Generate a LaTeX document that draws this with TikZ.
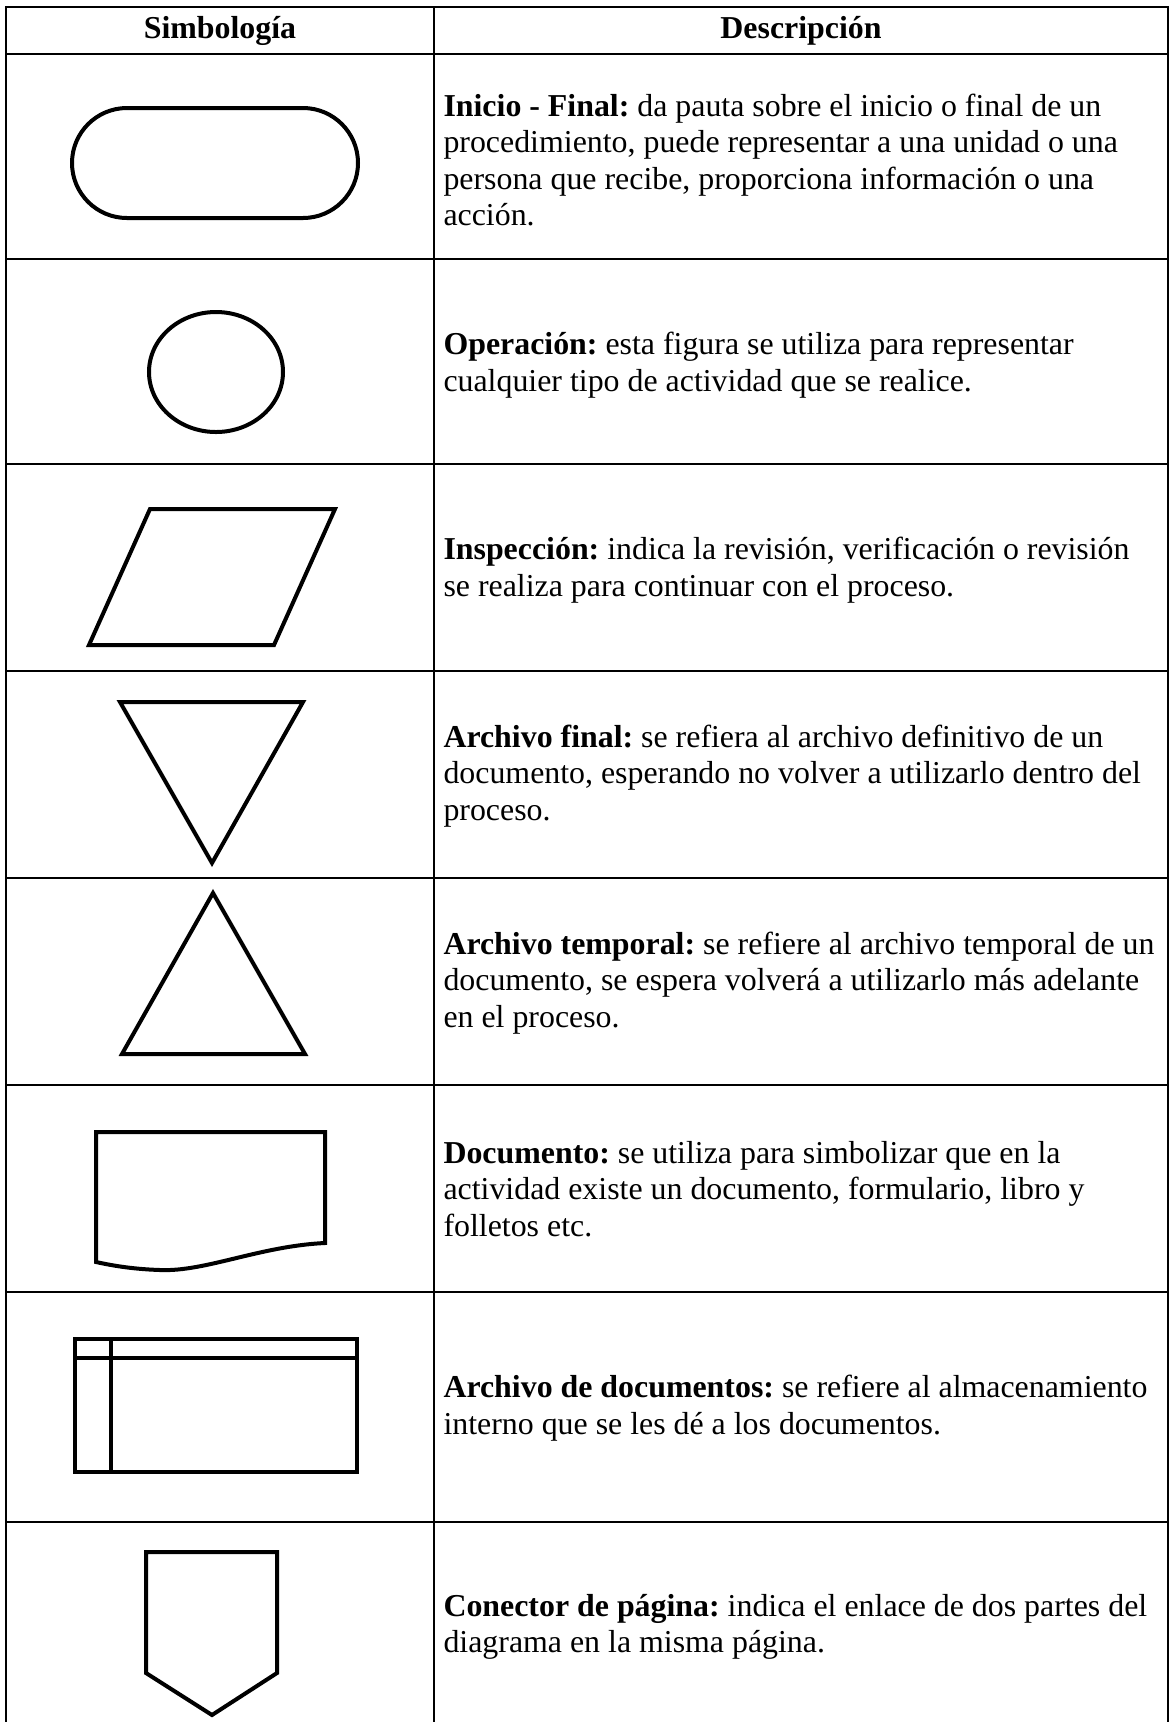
\documentclass[tikz,border=0pt]{standalone}
\usepackage{fontspec}
\setmainfont{Liberation Serif}
\frenchspacing

\tikzset{
  rejilla/.style={line width=0.6pt},
  simbolo/.style={line width=1.6pt, line join=miter},
  descr/.style={anchor=west, inner sep=0pt, align=left, font=\fontsize{12.75}{14.65}\selectfont},
  cabecera/.style={inner sep=0pt, font=\fontsize{12.75}{14.65}\selectfont\bfseries}
}

\begin{document}
\begin{tikzpicture}[x=0.4pt, y=-0.4pt]
\useasboundingbox (0,0) rectangle (1173,1722);

% tabla
\draw[rejilla] (6,1722) -- (6,7) -- (1168,7) -- (1168,1722);
\draw[rejilla] (434,7) -- (434,1722);
\foreach \y in {54,259,464,671,878,1085,1292,1522}
{
\draw[rejilla] (6,\y) -- (1168,\y);
}

\node[cabecera] (simb) at (220,31) {Simbología};
\node[cabecera] (desc) at (801,31) {Descripción};

% simbolos
\draw[simbolo, rounded corners=22pt] (72,108) rectangle (358,218);
\draw[simbolo] (216,372) ellipse [x radius=26.8pt, y radius=24pt];
\draw[simbolo] (150,509) -- (335,509) -- (274,645) -- (89,645) -- cycle;
\draw[simbolo] (120,702) -- (303,702) -- (212,863) -- cycle;
\draw[simbolo] (213,893) -- (305,1054) -- (122,1054) -- cycle;
\draw[simbolo] (96,1132) -- (325,1132) -- (325,1243)
  .. controls (260,1246) and (205,1272) .. (160,1270)
  .. controls (130,1269) and (110,1265) .. (96,1262) -- cycle;
\draw[simbolo] (75,1339) rectangle (357,1472);
\draw[simbolo] (75,1358) -- (357,1358);
\draw[simbolo] (111,1339) -- (111,1472);
\draw[simbolo] (146,1552) -- (277,1552) -- (277,1673) -- (212,1715) -- (146,1673) -- cycle;

% descripciones
\node[descr] (inicio) at (443,160) {\textbf{Inicio - Final:} da pauta sobre el inicio o final de un\\procedimiento, puede representar a una unidad o una\\persona que recibe, proporciona información o una\\acción.};
\node[descr] (operacion) at (443,365) {\textbf{Operación:} esta figura se utiliza para representar\\cualquier tipo de actividad que se realice.};
\node[descr] (inspeccion) at (443,570) {\textbf{Inspección:} indica la revisión, verificación o revisión\\se realiza para continuar con el proceso.};
\node[descr] (final) at (443,776) {\textbf{Archivo final:} se refiera al archivo definitivo de un\\documento, esperando no volver a utilizarlo dentro del\\proceso.};
\node[descr] (temporal) at (443,983) {\textbf{Archivo temporal:} se refiere al archivo temporal de un\\documento, se espera volverá a utilizarlo más adelante\\en el proceso.};
\node[descr] (documento) at (443,1189) {\textbf{Documento:} se utiliza para simbolizar que en la\\actividad existe un documento, formulario, libro y\\folletos etc.};
\node[descr] (archivo) at (443,1408) {\textbf{Archivo de documentos:} se refiere al almacenamiento\\interno que se les dé a los documentos.};
\node[descr] (conector) at (443,1627) {\textbf{Conector de página:} indica el enlace de dos partes del\\diagrama en la misma página.};
\end{tikzpicture}
\end{document}
